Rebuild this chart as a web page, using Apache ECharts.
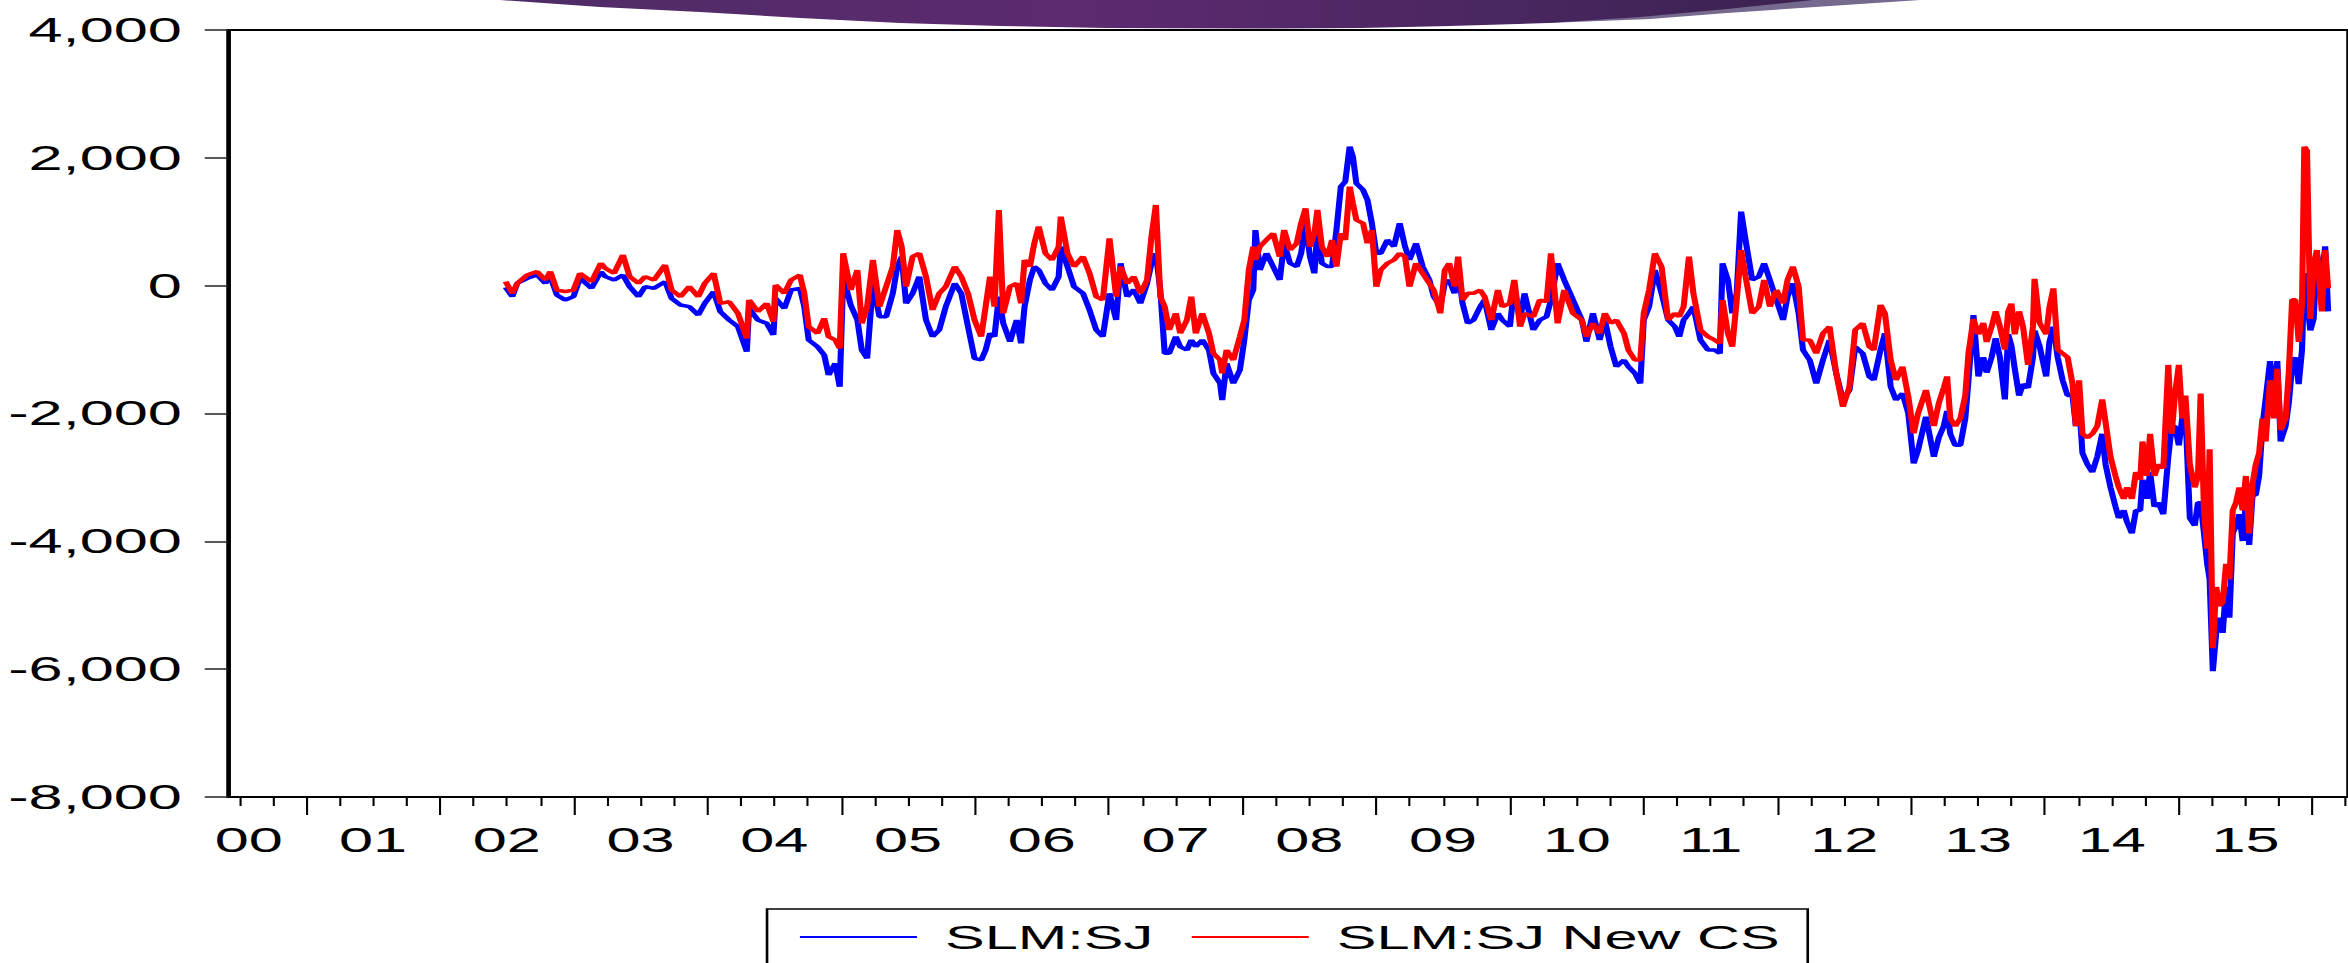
<!DOCTYPE html>
<html>
<head>
<meta charset="utf-8">
<title>SLM:SJ vs SLM:SJ New CS</title>
<script src="https://cdn.jsdelivr.net/npm/echarts@6.0.0/dist/echarts.min.js"></script>
<style>
  html, body { margin: 0; padding: 0; background: #fff; overflow: hidden; }
  /* the source picture is stretched sideways, so the chart is drawn narrow and widened */
  #chart { width: 1342px; height: 963px; transform: scaleX(1.749627); transform-origin: 0 0; }
</style>
</head>
<body>
<div id="chart"></div>
<script>
// decimal years of the sampled points
const dates = [
  2002.491, 2002.541, 2002.578, 2002.652, 2002.726, 2002.788, 2002.825, 2002.874, 2002.936, 2002.998, 2003.047, 2003.133,
  2003.203, 2003.236, 2003.302, 2003.368, 2003.418, 2003.484, 2003.534, 2003.600, 2003.683, 2003.732, 2003.798, 2003.864, 2003.931, 2003.980,
  2004.046, 2004.096, 2004.162, 2004.228, 2004.294, 2004.311, 2004.377, 2004.443, 2004.493, 2004.509, 2004.575, 2004.625, 2004.691, 2004.724, 2004.757, 2004.823, 2004.873, 2004.906, 2004.956, 2004.989,
  2005.015, 2005.071, 2005.121, 2005.154, 2005.194, 2005.237, 2005.286, 2005.336, 2005.386, 2005.419, 2005.452, 2005.485, 2005.534, 2005.584, 2005.634, 2005.683, 2005.733, 2005.782, 2005.849, 2005.898, 2005.948, 2005.997,
  2006.047, 2006.080, 2006.113, 2006.146, 2006.179, 2006.212, 2006.262, 2006.312, 2006.345, 2006.371, 2006.411, 2006.444, 2006.477, 2006.527, 2006.576, 2006.626, 2006.642, 2006.692, 2006.741, 2006.808, 2006.857, 2006.907, 2006.956,
  2007.006, 2007.056, 2007.089, 2007.138, 2007.188, 2007.237, 2007.287, 2007.320, 2007.353, 2007.386, 2007.419, 2007.452, 2007.502, 2007.535, 2007.585, 2007.618, 2007.651, 2007.700, 2007.750, 2007.783, 2007.833, 2007.849, 2007.882, 2007.932, 2007.981,
  2008.014, 2008.048, 2008.081, 2008.097, 2008.130, 2008.180, 2008.230, 2008.279, 2008.312,
  2008.356, 2008.406, 2008.439, 2008.472, 2008.505, 2008.538, 2008.561, 2008.594, 2008.637, 2008.670, 2008.703, 2008.736, 2008.769, 2008.802, 2008.826, 2008.852, 2008.902, 2008.935, 2008.968,
  2009.001, 2009.034, 2009.084, 2009.133, 2009.176, 2009.216, 2009.249, 2009.298, 2009.348, 2009.398, 2009.431, 2009.480, 2009.513, 2009.546, 2009.586, 2009.613, 2009.646, 2009.685, 2009.728, 2009.778, 2009.811, 2009.861, 2009.910, 2009.943,
  2010.000, 2010.033, 2010.076, 2010.109, 2010.175, 2010.224, 2010.274, 2010.307, 2010.357, 2010.406, 2010.472, 2010.538, 2010.572, 2010.621, 2010.671, 2010.710, 2010.753, 2010.796, 2010.853, 2010.886, 2010.935, 2010.975,
  2011.001, 2011.041, 2011.084, 2011.134, 2011.183, 2011.233, 2011.266, 2011.299, 2011.339, 2011.372, 2011.425, 2011.481, 2011.531, 2011.570, 2011.590, 2011.630, 2011.663, 2011.696, 2011.729, 2011.762, 2011.812, 2011.861, 2011.901, 2011.944, 2011.993,
  2012.043, 2012.076, 2012.116, 2012.159, 2012.192, 2012.242, 2012.291, 2012.341, 2012.390, 2012.440, 2012.490, 2012.539, 2012.582, 2012.638, 2012.688, 2012.721, 2012.771, 2012.804, 2012.847, 2012.887, 2012.936, 2012.979,
  2013.019, 2013.052, 2013.111,
  2013.170, 2013.207, 2013.244, 2013.269, 2013.293, 2013.330, 2013.368, 2013.405, 2013.429, 2013.466, 2013.503, 2013.540, 2013.565, 2013.602, 2013.632, 2013.664, 2013.701, 2013.726, 2013.750, 2013.775, 2013.807, 2013.837, 2013.874, 2013.911, 2013.923, 2013.960,
  2014.010, 2014.034, 2014.064, 2014.096, 2014.133, 2014.170, 2014.207, 2014.232, 2014.256, 2014.281, 2014.318, 2014.355, 2014.392, 2014.429, 2014.454, 2014.491, 2014.528, 2014.553, 2014.590, 2014.614, 2014.651, 2014.681, 2014.713, 2014.730, 2014.763, 2014.787, 2014.819, 2014.849, 2014.886, 2014.923, 2014.948, 2014.972,
  2015.002, 2015.027, 2015.051, 2015.084, 2015.121, 2015.145, 2015.165, 2015.190, 2015.214, 2015.232, 2015.256, 2015.281, 2015.306, 2015.330, 2015.355, 2015.380, 2015.405, 2015.429, 2015.454, 2015.479, 2015.503, 2015.528, 2015.553, 2015.577, 2015.602, 2015.627, 2015.651, 2015.684, 2015.713, 2015.738, 2015.763, 2015.800, 2015.824, 2015.849, 2015.874, 2015.898, 2015.923, 2015.940, 2015.960, 2015.985,
  2016.010, 2016.034, 2016.071, 2016.096, 2016.118
]

// SLM:SJ (blue)
const slmSj = [
  -26, -172, 37, 115, 167, 37, 141, -146, -224, -172, 115, -41,
  219, 141, 89, 167, -15, -172, -15, -41, 63, -198, -302, -328, -459, -276,
  -94, -407, -537, -641, -1033, -355, -537, -589, -772, -198, -355, -68, -41, -328, -850, -955, -1085, -1398, -1215, -1581,
  141, -302, -537, -1007, -1137, 37, -485, -485, -120, 298, 454, -276, -120, 141, -537, -798, -693, -328, 37, -120, -641, -1137,
  -1163, -1007, -746, -798, -172, -589, -876, -537, -902, -328, 89, 298, 245, 37, -68, 141, 611, 298, -15, -120, -380, -693, -798,
  -120, -537, 350, -172, -60, -276, 37, 350, 506, -68, -1059, -1059, -798, -955, -1007, -850, -955, -850, -1007, -1372, -1529, -1789, -1215, -1529, -1320,
  -850, -224, -68, 871, 245, 506, 298, 89, 663,
  350, 298, 506, 976, 454, 193, 871, 350, 298, 298, 871, 1550, 1628, 2176, 2019, 1602, 1497, 1341, 976,
  506, 506, 715, 611, 976, 611, 402, 663, 298, 89, -172, -328, 37, 89, -120, 245, -276, -589, -537, -328, -224, -693, -433, -537,
  -641, -15, -537, -120, -693, -537, -485, -224, 350, 89, -224, -537, -876, -433, -850, -537, -955, -1267, -1163, -1267, -1372, -1529,
  -537, -328, 245, -120, -537, -641, -798, -537, -433, -328, -850, -1007, -1007, -1059, 350, 89, -433, -120, 1158, 715, 89, 141, 350, 89, -224,
  -537, -172, 37, -433, -1007, -1163, -1529, -1163, -850, -1372, -1789, -1633, -955, -1059, -1424, -1476, -1007, -746, -1581, -1789, -1685, -1998,
  -2781, -2572, -2050,
  -2677, -2378, -2198, -1959, -2318, -2498, -2498, -2078, -1480, -461, -1420, -1120, -1360, -1120, -821, -1120, -1779, -761, -940, -1300, -1719, -1539, -1599, -1120, -701, -940,
  -1420, -881, -641, -1120, -1480, -1719, -1719, -2198, -1839, -2618, -2797, -2917, -2677, -2318, -2797, -3156, -3456, -3636, -3516, -3696, -3875, -3516, -3516, -3037, -3336, -2917, -3456, -3396, -3576, -2677, -2198, -2198,
  -2498, -2078, -1959, -3636, -3755, -3396, -3396, -3875, -4354, -4594, -6031, -5432, -5194, -5432, -4714, -5194, -3875, -3755, -3576, -3995, -3396, -4055, -3276, -3276, -2977, -2198, -1779, -1180, -1719, -1180, -2438, -2198, -1839, -1240, -1120, -1539, -1000, 197, -222, -701,
  -521, 497, 108, 617, -402
]

// SLM:SJ New CS (red)
const slmSjNewCs = [
  63, -120, 37, 167, 220, 89, 220, -68, -94, -68, 193, 63,
  350, 271, 193, 480, 141, 37, 141, 89, 324, -68, -172, -15, -172, 37,
  193, -276, -250, -433, -824, -224, -407, -276, -563, 11, -120, 89, 167, -120, -641, -746, -511, -798, -850, -981,
  506, -68, 245, -589, -328, 402, -328, -15, 298, 871, 611, -15, 454, 506, 141, -380, -120, -15, 298, 141, -120, -537,
  -798, -328, 141, -328, 1184, -433, -15, 37, -276, 402, 298, 663, 924, 506, 402, 611, 1080, 506, 298, 454, 193, -172, -224,
  741, -172, 298, 37, 141, -120, 89, 767, 1263, -172, -328, -693, -433, -746, -537, -172, -746, -433, -746, -1059, -1163, -1372, -1007, -1163, -798,
  -537, 245, 611, 402, 611, 715, 819, 454, 871,
  558, 663, 976, 1210, 611, 819, 1184, 611, 454, 715, 298, 819, 715, 1550, 1289, 1028, 976, 663, 871,
  -15, 245, 350, 402, 506, 454, -15, 350, 193, 37, -68, -433, 245, 350, -15, 454, -224, -120, -120, -68, -172, -537, -68, -328,
  -276, 89, -641, -433, -485, -224, -250, 506, -589, -68, -433, -537, -798, -589, -746, -433, -589, -537, -746, -1007, -1163, -1163,
  -433, -68, 506, 298, -537, -433, -485, -328, 454, -120, -693, -798, -850, -902, -224, -746, -955, -224, 558, 141, -433, -328, 89, -328, -68,
  -276, 89, 298, -15, -850, -850, -1059, -746, -641, -1372, -1894, -1581, -693, -589, -955, -1007, -302, -433, -1163, -1476, -1267, -1737,
  -2311, -1998, -1633,
  -2198, -1839, -1599, -1420, -2078, -2198, -2078, -1719, -1060, -521, -761, -581, -881, -641, -402, -641, -1000, -402, -282, -761, -402, -641, -1240, -641, 108, -581,
  -761, -342, -42, -1000, -1060, -1120, -1539, -2198, -1480, -2318, -2378, -2318, -2198, -1779, -2138, -2677, -2977, -3156, -3336, -3156, -3336, -2917, -3037, -2438, -2977, -2318, -2977, -2797, -2857, -1240, -2318, -1719,
  -1240, -2078, -1719, -2797, -3156, -2977, -1689, -3516, -4115, -2558, -5672, -4714, -5013, -4953, -4354, -4594, -3516, -3396, -3156, -3516, -2977, -3875, -3097, -2797, -2618, -2078, -2438, -1480, -2078, -1300, -2258, -2078, -1360, -222, -222, -880, -282, 2174, 2114, -521,
  317, 557, -402, 557, -42
]

// x axis: labels sit in the middle of each year, long ticks at year starts
const yearLabels = ['00', '01', '02', '03', '04', '05', '06', '07', '08', '09', '10', '11', '12', '13', '14', '15']
const labelPos = [2000.57, 2001.5, 2002.5, 2003.5, 2004.5, 2005.5, 2006.5, 2007.5, 2008.5, 2009.5, 2010.5, 2011.5, 2012.5, 2013.5, 2014.5, 2015.5]
const yearTicks = [2001, 2002, 2003, 2004, 2005, 2006, 2007, 2008, 2009, 2010, 2011, 2012, 2013, 2014, 2015, 2016]

const X_MIN = 2000.4148
const X_MAX = 2016.2667
const FONT = '"Liberation Sans", Arial, Helvetica, sans-serif'

const quarterTicks = []
for (let y = 2000; y <= 2016; y++) {
  [0.25, 0.5, 0.75].forEach(q => {
    if (y + q > X_MIN && y + q < X_MAX) quarterTicks.push(y + q)
  })
}

const S = 2348 / 1342 // sideways stretch, full-size px -> chart px
const px = x => x / S

function bannerPoints(pts) {
  return [[px(pts[0][0]), 0]].concat(pts.map(p => [px(p[0]), p[1]]), [[px(pts[pts.length - 1][0]), 0]])
}

const chart = echarts.init(document.getElementById('chart'), null, { renderer: 'svg' })

chart.setOption({
  animation: false,
  backgroundColor: '#fff',
  textStyle: { fontFamily: FONT },
  graphic: [
    {
      type: 'polygon',
      shape: { points: bannerPoints([[1548, 23], [1650, 19], [1727, 13], [1830, 6], [1920, 0]]) },
      style: { fill: '#75698d' }
    },
    {
      type: 'polygon',
      shape: {
        points: bannerPoints([[500, 0], [600, 7], [700, 12], [800, 18], [900, 23], [1000, 26], [1106, 28],
          [1250, 28.5], [1361, 28], [1450, 26], [1548, 23], [1640, 17], [1727, 9], [1813, 0]])
      },
      style: {
        fill: new echarts.graphic.LinearGradient(0, 0, 1, 0, [
          { offset: 0, color: '#4e2c66' },
          { offset: 0.45, color: '#5d2a70' },
          { offset: 0.8, color: '#47265e' },
          { offset: 1, color: '#3b2250' }
        ])
      }
    }
  ],
  grid: {
    left: 130.3,
    top: 30,
    width: 1223.1,
    height: 767,
    show: true,
    borderColor: '#000',
    borderWidth: 2,
    backgroundColor: 'transparent'
  },
  legend: {
    left: 438.4,
    top: 909,
    padding: [11, 16, 30, 18.8],
    icon: 'rect',
    itemWidth: 66.9,
    itemHeight: 2.2,
    itemGap: 22,
    borderColor: '#000',
    borderWidth: 1.5,
    textStyle: { fontSize: 34, color: '#000', fontFamily: FONT, padding: [0, 0, 0, 11] },
    data: ['SLM:SJ', 'SLM:SJ New CS']
  },
  xAxis: [
    {
      type: 'value',
      min: X_MIN,
      max: X_MAX,
      position: 'bottom',
      axisLine: { onZero: false, lineStyle: { color: '#000', width: 2 } },
      axisTick: { customValues: yearTicks, length: 18, lineStyle: { color: '#000', width: 1.2 } },
      axisLabel: {
        customValues: labelPos,
        margin: 26,
        fontSize: 35,
        color: '#000',
        fontFamily: FONT,
        formatter: v => {
          let best = 0
          labelPos.forEach((p, i) => { if (Math.abs(p - v) < Math.abs(labelPos[best] - v)) best = i })
          return yearLabels[best]
        }
      },
      splitLine: { show: false }
    },
    {
      type: 'value',
      min: X_MIN,
      max: X_MAX,
      position: 'bottom',
      axisLine: { show: false, onZero: false },
      axisTick: { customValues: quarterTicks, length: 9, lineStyle: { color: '#000', width: 1.2 } },
      axisLabel: { show: false },
      splitLine: { show: false }
    }
  ],
  yAxis: {
    type: 'value',
    min: -8000,
    max: 4000,
    interval: 2000,
    axisLine: { show: true, onZero: false, lineStyle: { color: '#000', width: 2 } },
    axisTick: { show: true, length: 13.3, lineStyle: { color: '#222', width: 1.5 } },
    axisLabel: {
      margin: 26.4,
      fontSize: 35,
      color: '#000',
      fontFamily: FONT,
      formatter: v => v.toLocaleString('en-US')
    },
    splitLine: { show: false }
  },
  series: [
    {
      name: 'SLM:SJ',
      type: 'line',
      xAxisIndex: 0,
      symbol: 'none',
      data: dates.map((d, i) => [d, slmSj[i]]),
      lineStyle: { color: '#0000ff', width: 3.5 },
      itemStyle: { color: '#0000ff' }
    },
    {
      name: 'SLM:SJ New CS',
      type: 'line',
      xAxisIndex: 0,
      symbol: 'none',
      data: dates.map((d, i) => [d, slmSjNewCs[i]]),
      lineStyle: { color: '#ff0000', width: 3.5 },
      itemStyle: { color: '#ff0000' }
    }
  ]
})
</script>
</body>
</html>
